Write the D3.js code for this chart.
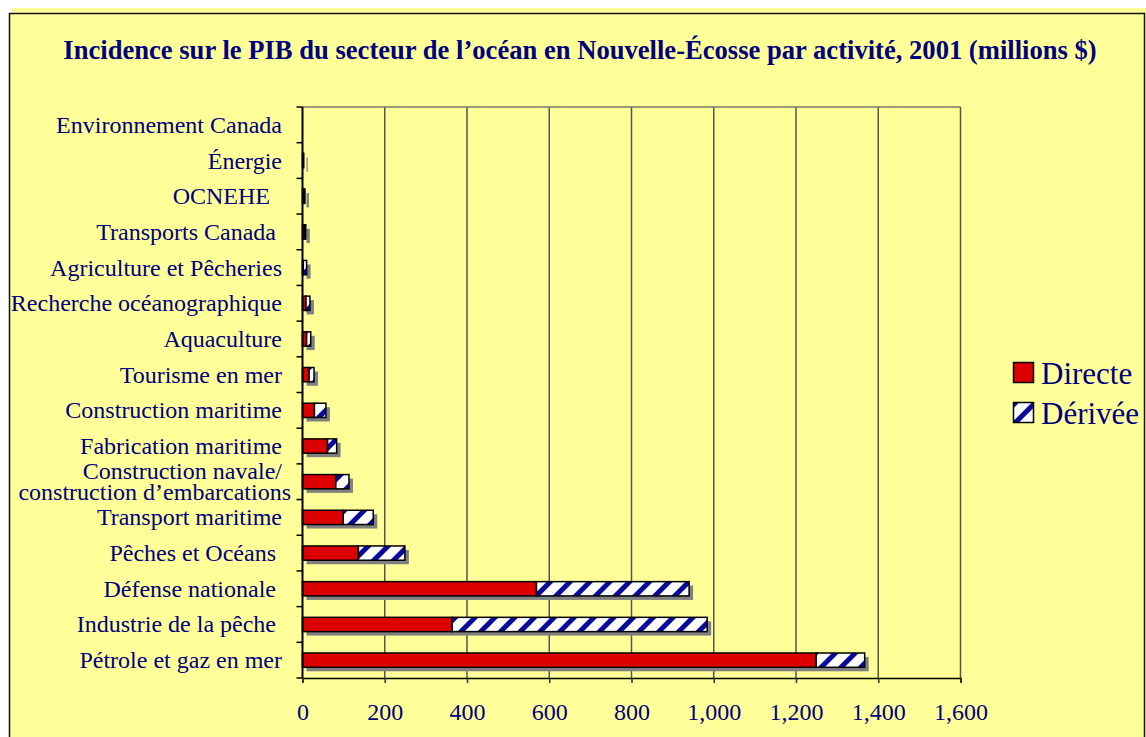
<!DOCTYPE html>
<html>
<head>
<meta charset="utf-8">
<script src="https://cdn.jsdelivr.net/npm/d3@7"></script>
<style>
  body { margin: 0; background: #fff; }
  text { font-family: "Liberation Serif", "Times New Roman", serif; fill: #000080; white-space: pre; }
</style>
</head>
<body>
<div id="chart"></div>
<script>
let width = 1146, height = 737;

// categories, top to bottom (trailing spaces as in the original labels)
let categories = ["Environnement Canada", "Énergie", "OCNEHE  ", "Transports Canada ",
  "Agriculture et Pêcheries", "Recherche océanographique", "Aquaculture", "Tourisme en mer",
  "Construction maritime", "Fabrication maritime", "Construction navale/\nconstruction d’embarcations",
  "Transport maritime", "Pêches et Océans ", "Défense nationale ", "Industrie de la pêche ",
  "Pétrole et gaz en mer"]
let directe = [0, 2, 4, 5, 2, 8.5, 10, 16, 29, 61, 81, 99, 136, 569, 364, 1249]
let derivee = [0, 1, 2, 3, 8, 9.5, 10, 12, 28, 22, 32, 73, 113, 371, 620, 118]
let xTicks = [0, 200, 400, 600, 800, 1000, 1200, 1400, 1600]
let seriesNames = ["Directe", "Dérivée"]

let title = "Incidence sur le PIB du secteur de l’océan en Nouvelle-Écosse par activité, 2001 (millions $)"

let svg = d3.select('#chart')
            .append('svg')
            .attr('width', width)
            .attr('height', height)

let defs = svg.append('defs')
let pat = defs.append('pattern')
    .attr('id', 'hatch')
    .attr('patternUnits', 'userSpaceOnUse')
    .attr('width', 14)
    .attr('height', 14)
    .attr('patternTransform', 'rotate(45)')
pat.append('rect').attr('width', 14).attr('height', 14).attr('fill', '#fff')
pat.append('rect').attr('width', 5).attr('height', 14).attr('fill', '#0a0a9a')

// background + frame
svg.append('rect').attr('x', 12).attr('y', 8).attr('width', width - 12).attr('height', height - 8)
    .attr('fill', '#ffff99')
svg.append('rect').attr('x', 9.5).attr('y', 13.5).attr('width', 1135).attr('height', 740)
    .attr('fill', '#ffff99').attr('stroke', '#111').attr('stroke-width', 1.5)

svg.append('text')
    .attr('x', 580).attr('y', 59)
    .attr('text-anchor', 'middle')
    .style('font-size', '26.6px').style('font-weight', 'bold')
    .text(title)

let x = d3.scaleLinear().domain([0, 1600]).range([302.5, 960.5])
let y = d3.scaleBand().domain(categories).range([107, 678])
    .paddingInner(0.6).paddingOuter(0.3)

// grid
svg.append('g').selectAll('line')
    .data(xTicks.slice(1))
    .enter().append('line')
    .attr('x1', d => x(d)).attr('x2', d => x(d))
    .attr('y1', 107).attr('y2', 678)
    .attr('stroke', '#555').attr('stroke-width', 1.5)
svg.append('line').attr('x1', x(0)).attr('x2', x(1600)).attr('y1', 107).attr('y2', 107)
    .attr('stroke', '#777').attr('stroke-width', 1.5)

// shadows
let total = categories.map((c, i) => directe[i] + derivee[i])
svg.append('g').selectAll('rect')
    .data(categories)
    .enter().append('rect')
    .attr('x', d => x(0) + 4)
    .attr('y', d => y(d) + 4)
    .attr('width', (d, i) => total[i] > 0 ? x(total[i]) - x(0) : 0)
    .attr('height', y.bandwidth())
    .attr('fill', '#808080')

// directe bars
svg.append('g').selectAll('rect')
    .data(categories)
    .enter().append('rect')
    .attr('x', x(0))
    .attr('y', d => y(d))
    .attr('width', (d, i) => x(directe[i]) - x(0))
    .attr('height', y.bandwidth())
    .attr('fill', '#dd0000')
    .attr('stroke', '#000').attr('stroke-width', (d, i) => directe[i] > 0 ? 1.5 : 0)

// derivee bars
svg.append('g').selectAll('rect')
    .data(categories)
    .enter().append('rect')
    .attr('x', (d, i) => x(directe[i]))
    .attr('y', d => y(d))
    .attr('width', (d, i) => x(directe[i] + derivee[i]) - x(directe[i]))
    .attr('height', y.bandwidth())
    .attr('fill', 'url(#hatch)')
    .attr('stroke', '#000').attr('stroke-width', (d, i) => derivee[i] > 0 ? 1.5 : 0)

// x axis
let xAxis = svg.append('g')
    .attr('transform', 'translate(0,678)')
    .call(d3.axisBottom(x).tickValues(xTicks).tickFormat(d3.format(',')).tickSize(5).tickPadding(20))
xAxis.select('.domain').attr('stroke', '#000').attr('stroke-width', 1.5)
xAxis.selectAll('.tick line').attr('stroke', '#333').attr('stroke-width', 1.5)
xAxis.selectAll('text').style('font-size', '24px').attr('fill', '#000080')
    .style('font-family', '"Liberation Serif", serif')

// y axis line + ticks at band edges
svg.append('line').attr('x1', x(0)).attr('x2', x(0)).attr('y1', 107).attr('y2', 678)
    .attr('stroke', '#000').attr('stroke-width', 2)
let step = y.step()
svg.append('g').selectAll('line')
    .data(d3.range(categories.length + 1))
    .enter().append('line')
    .attr('x1', x(0) - 6).attr('x2', x(0))
    .attr('y1', d => 107 + d * step).attr('y2', d => 107 + d * step)
    .attr('stroke', '#000').attr('stroke-width', 1.5)

// category labels
let labels = svg.append('g').selectAll('text')
    .data(categories)
    .enter().append('text')
    .attr('x', 282)
    .attr('text-anchor', 'end')
    .style('font-size', '24px')
labels.each(function(d) {
    let lines = d.split('\n')
    let cy = y(d) + y.bandwidth() / 2
    let t = d3.select(this)
    lines.forEach((l, k) => {
        t.append('tspan')
            .attr('x', l.startsWith('construction') ? 291 : 282)
            .attr('y', cy + 8 + (k - (lines.length - 1) / 2) * 21)
            .text(l)
    })
})

// legend
let legend = svg.append('g').attr('transform', 'translate(1013,362)')
seriesNames.forEach((s, i) => {
    legend.append('rect')
        .attr('x', 0.5).attr('y', i * 40 + 0.5)
        .attr('width', 20).attr('height', 20)
        .attr('fill', i == 0 ? '#dd0000' : 'url(#hatch)')
        .attr('stroke', '#000').attr('stroke-width', 1.5)
    legend.append('text')
        .attr('x', 28).attr('y', i * 40 + 22)
        .style('font-size', '31px')
        .text(s)
})
</script>
</body>
</html>
